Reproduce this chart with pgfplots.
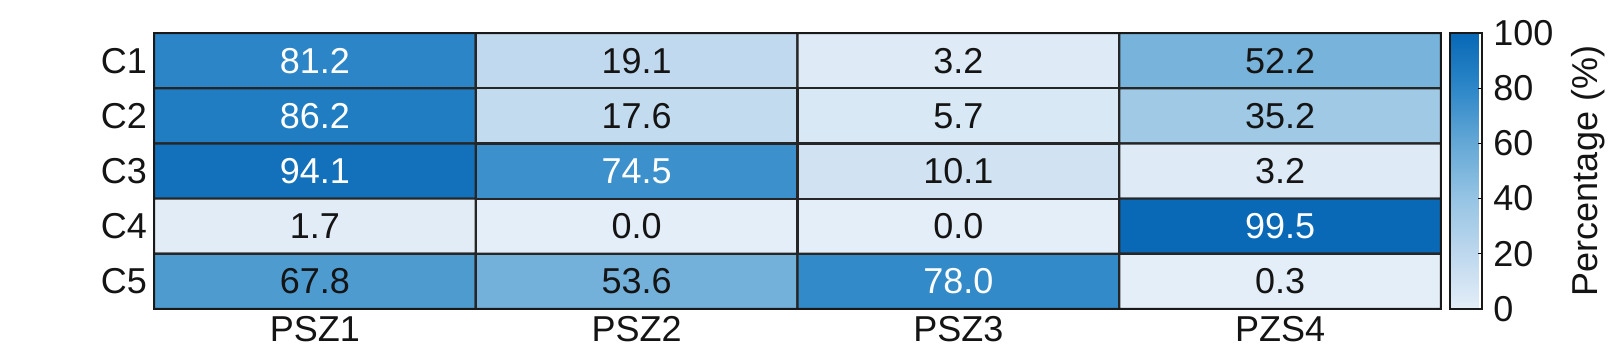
\documentclass[border=0pt]{standalone}
\usepackage{fontspec}
\setmainfont{Liberation Sans}
\usepackage{pgfplots}
\pgfplotsset{compat=1.18}
\newcommand{\fs}{\fontsize{18}{21}\selectfont}
\definecolor{txt}{RGB}{20,20,20}
\begin{document}
\begin{tikzpicture}
\path[use as bounding box] (-77pt,-27pt) rectangle (727pt,154.5pt);
\begin{axis}[
  at={(0,0)}, anchor=south west,
  scale only axis, width=643.5pt, height=138pt,
  xmin=-0.5, xmax=3.5, ymin=-0.5, ymax=4.5, y dir=reverse,
  xtick={0,1,2,3}, xticklabels={PSZ1,PSZ2,PSZ3,PZS4},
  ytick={0,1,2,3,4}, yticklabels={C1,C2,C3,C4,C5},
  major tick length=0pt,
  tick label style={font=\fs, text=txt},
  /pgf/number format/assume math mode=true,
  axis on top,
  axis line style={line width=1.2pt, black!90},
  colormap={blues}{rgb255(0cm)=(228,238,248); rgb255(1cm)=(190,216,238); rgb255(2cm)=(150,196,228); rgb255(3cm)=(100,168,214); rgb255(4cm)=(45,135,200); rgb255(5cm)=(8,104,182)},
  point meta min=0, point meta max=100,
  colorbar right,
  colorbar shift/.style={xshift=4pt},
  colorbar style={
    width=16pt,
    ytick={0,20,40,60,80,100},
    ytick pos=right, yticklabel pos=right,
    tick align=inside, major tick length=2pt,
    tick style={black, line width=0.6pt},
    axis line style={line width=1.2pt, black!90},
    yticklabel style={font=\fs, text=txt, xshift=2pt},
    /pgf/number format/assume math mode=true,
    ylabel={Percentage (\%)},
    ylabel style={font=\fs, text=txt, yshift=-2pt},
  },
]
\addplot[matrix plot*, mesh/cols=4, point meta=explicit, draw=black!85, line width=1.1pt] coordinates {
 (0,0) [81.2] (1,0) [19.1] (2,0) [3.2] (3,0) [52.2]

 (0,1) [86.2] (1,1) [17.6] (2,1) [5.7] (3,1) [35.2]

 (0,2) [94.1] (1,2) [74.5] (2,2) [10.1] (3,2) [3.2]

 (0,3) [1.7] (1,3) [0.0] (2,3) [0.0] (3,3) [99.5]

 (0,4) [67.8] (1,4) [53.6] (2,4) [78.0] (3,4) [0.3]
};
\addplot[draw=none, mark=none, nodes near coords, point meta=explicit symbolic,
  nodes near coords style={anchor=center, font=\fs, text=white}] coordinates {
 (0,0) [81.2] (0,1) [86.2] (0,2) [94.1] (1,2) [74.5] (3,3) [99.5] (2,4) [78.0]
};
\addplot[draw=none, mark=none, nodes near coords, point meta=explicit symbolic,
  nodes near coords style={anchor=center, font=\fs, text=txt}] coordinates {
 (1,0) [19.1] (2,0) [3.2] (3,0) [52.2]
 (1,1) [17.6] (2,1) [5.7] (3,1) [35.2]
 (2,2) [10.1] (3,2) [3.2]
 (0,3) [1.7] (1,3) [0.0] (2,3) [0.0]
 (0,4) [67.8] (1,4) [53.6] (3,4) [0.3]
};
\end{axis}
\end{tikzpicture}
\end{document}
